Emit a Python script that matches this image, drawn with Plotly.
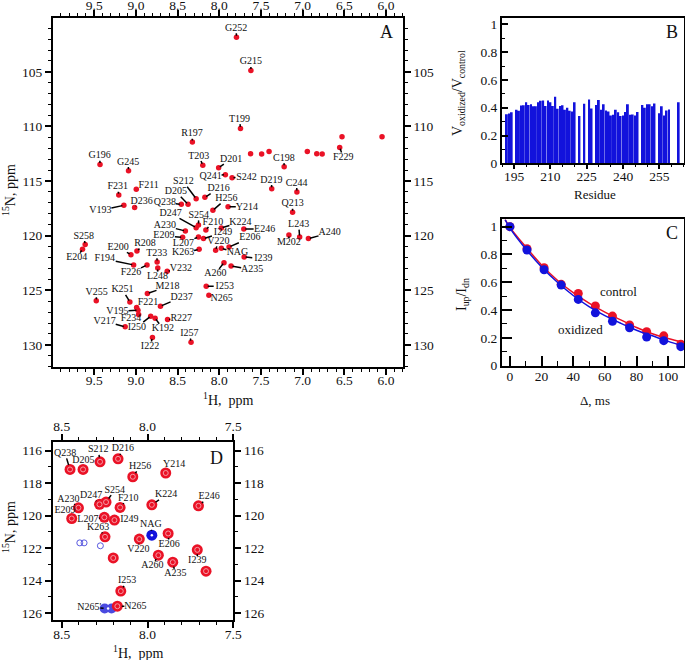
import math
import plotly.graph_objects as go

# panel A: assigned peaks
a_names=["R197","G196","G245","T203","F231","F211","D201","Q241","S242","G252","G215","T199","C198","D219","C244","F229",
"S212","D205","Q238","D216","H256","Y214","Q213","V193","D236","D247","S254","A230","F210","K224","E246","E209","L207","I249",
"V220","NAG","E206","K263","E200","R208","S258","E204","F194","T233","F226","I239","A235","A260","V232","L248","M218","I253",
"N265","V255","K251","F221","D237","V195","F234","V217","I250","K192","R227","I257","I222","A240","L243","M202"]
a_h=[8.323,9.431,9.089,8.198,9.206,8.996,8.008,7.927,7.847,7.794,7.621,7.746,7.222,7.371,7.069,6.556,
8.278,8.375,8.456,8.173,8.077,7.895,7.121,9.145,9.016,8.278,8.25,8.407,8.161,7.976,7.706,8.44,8.25,8.19,
8.044,7.976,7.883,8.242,9.06,8.988,9.609,9.641,9.028,8.746,8.867,7.702,7.859,7.944,8.625,8.738,8.863,8.157,
8.125,9.476,9.073,8.992,8.706,8.976,8.968,9.129,8.823,8.77,8.621,8.339,8.802,6.931,7.036,7.165]
a_n=[111.43,113.48,114.05,113.54,116.28,115.76,113.78,114.42,114.7,101.83,104.88,110.18,113.69,115.7,116.0,111.92,
116.61,117.13,117.13,116.49,117.68,117.35,117.86,117.22,117.41,119.27,119.02,119.57,119.48,119.3,119.39,120.15,120.12,120.27,
121.34,121.16,121.03,121.25,121.74,121.4,120.82,121.25,122.68,122.41,122.68,121.95,122.77,122.47,123.26,122.96,125.3,124.63,
125.46,125.97,126.07,126.58,126.46,126.83,127.22,128.35,127.38,127.56,127.68,129.75,129.33,120.27,120.12,119.94]
a_label_h=[8.327,9.435,9.093,8.246,9.218,8.847,7.859,8.105,7.673,7.798,7.621,7.758,7.226,7.375,7.073,6.512,
8.431,8.52,8.654,8.008,7.915,7.67,7.121,9.427,8.931,8.585,8.246,8.654,8.077,7.746,7.456,8.665,8.431,7.956,
8.012,7.782,7.633,8.435,9.214,8.891,9.625,9.71,9.375,8.75,9.06,7.472,7.605,8.048,8.46,8.742,8.621,7.935,
7.972,9.472,9.161,8.855,8.452,9.222,9.06,9.375,8.988,8.677,8.456,8.359,8.831,6.677,7.048,7.165]
a_label_n=[110.67,112.68,113.26,112.71,115.52,115.37,112.99,114.54,114.63,101.0,104.09,109.33,112.9,114.91,115.18,112.84,
115.06,115.98,116.98,115.7,116.61,117.38,117.07,117.68,116.83,117.96,118.14,119.11,118.75,118.75,119.39,120.0,120.7,119.72,
120.52,121.55,120.21,121.58,121.07,120.73,120.03,122.01,122.13,121.61,123.41,122.13,123.14,123.5,123.02,123.75,124.66,124.63,
125.79,125.18,124.97,126.13,125.64,126.92,127.62,127.83,128.38,128.53,127.59,128.96,130.15,119.75,118.99,120.67]
# peaks with no label
a_free_h=[6.528,6.048,7.625,7.492,7.403,6.944,6.831,6.766]
a_free_n=[110.95,110.95,112.5,112.53,112.29,112.29,112.5,112.53]

# panel B
b_residue=list(range(192,264))
b_ratio=[.353,.358,.368,None,.385,.378,.416,.418,.44,.42,.425,.41,.41,.44,.45,.452,.413,.452,.44,.413,.48,.392,.413,.418,.385,.40,.378,.373,.44,None,
.34,None,.428,None,.46,.395,None,.42,.455,.385,.425,.38,.373,.345,.35,.385,.368,.34,.345,.37,.425,.35,.352,.345,.37,None,
.42,.40,.425,.425,.41,.43,None,.36,.41,.345,.38,.388,None,None,None,.44]

# panel C
c_delta=[0,10.8,21.6,32.4,43.2,54,64.8,75.6,86.4,97.2,108]
c_control=[1.0,.842,.705,.585,.52,.43,.357,.293,.245,.215,.155]
c_oxidized=[1.0,.832,.69,.58,.477,.38,.32,.273,.206,.18,.137]
c_fit_x=[-3,0,10,20,30,40,50,60,70,80,90,100,110]
c_fit_control=[1.05,.995,.855,.725,.615,.525,.45,.385,.33,.275,.23,.195,.165]
c_fit_oxidized=[1.05,.99,.84,.71,.6,.505,.425,.36,.305,.255,.215,.175,.14]

# panel D
d_names=["Q238","D205","S212","D216","H256","Y214","K224","E246","A230","D247","S254","F210","E209","L207","I249","K263",
"V220","E206","A260","A235","I239","I253","N265"]
d_h=[8.452,8.376,8.277,8.172,8.086,7.894,7.975,7.703,8.403,8.28,8.242,8.16,8.442,8.252,8.193,8.248,8.048,7.88,7.937,7.853,7.71,8.156,8.176]
d_n=[117.15,117.15,116.68,116.5,117.6,117.37,119.33,119.39,119.51,119.3,119.16,119.49,120.17,120.1,120.27,121.3,121.44,121.09,122.43,122.86,122.1,124.64,125.57]
d_label_h=[8.481,8.374,8.287,8.144,8.043,7.845,7.892,7.641,8.461,8.329,8.191,8.112,8.481,8.348,8.106,8.288,8.053,7.874,7.972,7.838,7.71,8.119,8.071]
d_label_n=[116.16,116.62,115.94,115.88,116.96,116.86,118.71,118.83,118.98,118.77,118.42,118.93,119.7,120.25,120.25,120.72,122.08,121.77,123.09,123.58,122.78,124.01,125.59]
d_free_h=[8.2,7.659]
d_free_n=[122.6,123.41]
d_blue_names=["NAG","N265'"]
d_blue_h=[7.975,8.23]
d_blue_n=[121.2,125.71]
d_blue_label_h=[7.981,8.339]
d_blue_label_n=[120.56,125.63]
d_wide_h=[8.25,8.21]
d_wide_n=[125.71,125.71]
d_weak_h=[8.395,8.37,8.275]
d_weak_n=[121.67,121.67,121.85]

W,H=685,660
FONT="Liberation Serif"
RED="#ea1226"
BLUE="#1212dc"

fig=go.Figure()

def xdom(a,b):
    return [a/W,b/W]
def ydom(top,bottom):
    return [1-bottom/H,1-top/H]
def note(text,x,y,size=14,angle=0):
    fig.add_annotation(text=text,x=x/W,y=1-y/H,xref="paper",yref="paper",showarrow=False,xanchor="center",yanchor="middle",
                       textangle=angle,font=dict(family=FONT,size=size,color="#111"))

# leader from the peak edge to the edge of the label box
def leaders(hs,ns,lhs,lns,sx,sy,r,hw=11,hh=5):
    xs,ys=[],[]
    for h,n,lh,ln in zip(hs,ns,lhs,lns):
        dx=abs(h-lh)*sx
        dy=abs(n-ln)*sy
        if dx==0 and dy==0:
            continue
        t=min(hw/dx if dx else 9,hh/dy if dy else 9)
        s=r/math.hypot(dx,dy)
        if t+s>=1:
            continue
        xs+=[h+s*(lh-h),lh+t*(h-lh),None]
        ys+=[n+s*(ln-n),ln+t*(n-ln),None]
    return xs,ys

def axis(dom,rng,dtick,minor,ticks,ticklen,minorlen,anchor,side,overlay=None,mirror=False,fmt="",standoff=0):
    d=dict(domain=dom,range=rng,dtick=dtick,tick0=0,ticks=ticks,ticklen=ticklen,tickwidth=1.5,automargin=False,
           tickcolor="black",showline=True,linecolor="black",linewidth=2,showgrid=False,zeroline=False,tickformat=fmt,
           ticklabelstandoff=standoff,
           minor=dict(dtick=minor,tick0=0,ticks=ticks,ticklen=minorlen,tickwidth=1,tickcolor="black",showgrid=False),
           tickfont=dict(family=FONT,size=13.5,color="#111"),anchor=anchor,side=side,mirror=mirror)
    if overlay:
        d["overlaying"]=overlay
    return d

# panel A and D have labelled axes on all four sides
layout={}
ax=xdom(53,402.7); ay=ydom(17.5,366.7)
layout["xaxis"]=axis(ax,[9.995,5.8],0.5,0.1,"outside",6,3,"y","bottom",fmt=".1f",standoff=-6)
layout["yaxis"]=axis(ay,[132,100.02],5,1,"outside",6,3,"x","left")
layout["xaxis5"]=axis(ax,[9.995,5.8],0.5,0.1,"outside",6,3,"y5","top","x",fmt=".1f",standoff=-6)
layout["yaxis5"]=axis(ay,[132,100.02],5,1,"outside",6,3,"x5","right","y")

bx=xdom(502,684); by=ydom(17.5,163.3)
layout["xaxis2"]=axis(bx,[190,265.2],15,5,"outside",4,2,"y2","bottom",mirror=True,standoff=-5)
layout["yaxis2"]=axis(by,[0,1.05],0.2,0.1,"inside",6,3,"x2","left",mirror=True,fmt="~g")

cx=xdom(502,684); cy=ydom(219.3,365.7)
layout["xaxis3"]=axis(cx,[-5,110],20,10,"inside",10,5,"y3","bottom",mirror=True,standoff=-3)
layout["yaxis3"]=axis(cy,[0,1.053],0.2,0.1,"inside",10,5,"x3","left",mirror=True,fmt="~g")

dx=xdom(52.7,233.3); dy=ydom(442.3,619.7)
layout["xaxis4"]=axis(dx,[8.553,7.5],0.5,0.1,"outside",6,3,"y4","bottom",fmt=".1f",standoff=-5)
layout["yaxis4"]=axis(dy,[126.4,115.48],2,1,"outside",6,3,"x4","left")
layout["xaxis6"]=axis(dx,[8.553,7.5],0.5,0.1,"outside",6,3,"y6","top","x4",fmt=".1f",standoff=-2)
layout["yaxis6"]=axis(dy,[126.4,115.48],2,1,"outside",6,3,"x6","right","y4")

# empty traces so the overlay axes get drawn
fig.add_trace(go.Scatter(x=[None],y=[None],xaxis="x5",yaxis="y5",showlegend=False))
fig.add_trace(go.Scatter(x=[None],y=[None],xaxis="x6",yaxis="y6",showlegend=False))

# A
lx,ly=leaders(a_h,a_n,a_label_h,a_label_n,83,10.91,1.5)
fig.add_trace(go.Scatter(x=a_h+a_free_h,y=a_n+a_free_n,mode="markers",marker=dict(color=RED,size=5.5),showlegend=False))
fig.add_trace(go.Scatter(x=lx,y=ly,mode="lines",line=dict(color="black",width=1.5),showlegend=False))
fig.add_trace(go.Scatter(x=a_label_h,y=a_label_n,mode="text",text=a_names,textposition="middle center",
                         textfont=dict(family=FONT,size=10,color="#111"),showlegend=False))

# B
fig.add_trace(go.Bar(x=b_residue,y=b_ratio,marker=dict(color=BLUE,line=dict(width=0)),width=0.8,xaxis="x2",yaxis="y2",showlegend=False))

# C
fig.add_trace(go.Scatter(x=c_fit_x,y=c_fit_control,mode="lines",line=dict(color=RED,width=1.5,shape="spline"),xaxis="x3",yaxis="y3",showlegend=False))
fig.add_trace(go.Scatter(x=c_delta,y=c_control,mode="markers",marker=dict(color=RED,size=9),xaxis="x3",yaxis="y3",showlegend=False))
fig.add_trace(go.Scatter(x=c_fit_x,y=c_fit_oxidized,mode="lines",line=dict(color=BLUE,width=1.5,shape="spline"),xaxis="x3",yaxis="y3",showlegend=False))
fig.add_trace(go.Scatter(x=c_delta,y=c_oxidized,mode="markers",marker=dict(color=BLUE,size=9),xaxis="x3",yaxis="y3",showlegend=False))

# D
red_h=d_h+d_free_h
red_n=d_n+d_free_n
fig.add_trace(go.Scatter(x=d_wide_h,y=d_wide_n,mode="markers",marker=dict(color="#4a4ae0",size=10),xaxis="x4",yaxis="y4",showlegend=False))
fig.add_trace(go.Scatter(x=red_h,y=red_n,mode="markers",marker=dict(color=RED,size=11),xaxis="x4",yaxis="y4",showlegend=False))
fig.add_trace(go.Scatter(x=red_h,y=red_n,mode="markers",marker=dict(symbol="circle-open",color="#f59aa4",size=5,line=dict(width=1)),xaxis="x4",yaxis="y4",showlegend=False))
fig.add_trace(go.Scatter(x=[d_blue_h[0]],y=[d_blue_n[0]],mode="markers",marker=dict(color=BLUE,size=11),xaxis="x4",yaxis="y4",showlegend=False))
fig.add_trace(go.Scatter(x=d_blue_h,y=d_blue_n,mode="markers",marker=dict(color="white",size=2.5),xaxis="x4",yaxis="y4",showlegend=False))
fig.add_trace(go.Scatter(x=d_weak_h,y=d_weak_n,mode="markers",marker=dict(symbol="circle-open",color="#5a5ae0",size=6,line=dict(width=1)),xaxis="x4",yaxis="y4",showlegend=False))
lx,ly=leaders(d_h+d_blue_h,d_n+d_blue_n,d_label_h+d_blue_label_h,d_label_n+d_blue_label_n,171.5,16.23,4.5)
fig.add_trace(go.Scatter(x=lx,y=ly,mode="lines",line=dict(color="black",width=1.5),xaxis="x4",yaxis="y4",showlegend=False))
fig.add_trace(go.Scatter(x=d_label_h+d_blue_label_h,y=d_label_n+d_blue_label_n,mode="text",text=d_names+d_blue_names,textposition="middle center",
                         textfont=dict(family=FONT,size=10,color="#111"),xaxis="x4",yaxis="y4",showlegend=False))

# panel letters and axis titles
note("A",387,32,18)
note("B",672,32,18)
note("C",672,233,18)
note("D",216,458,18)
note("<sup>1</sup>H,  ppm",228,399)
note("<sup>15</sup>N, ppm",9,190,14,-90)
note("V<sub>oxidized</sub>/V<sub>control</sub>",459,93,14,-90)
note("Residue",595,195,13)
note("I<sub>up</sub>/I<sub>dn</sub>",462,295,14,-90)
note("Δ, ms",595,400,13)
note("control",618,291,13)
note("oxidized",580,329,13)
note("<sup>1</sup>H,  ppm",138,652)
note("<sup>15</sup>N, ppm",9,527,14,-90)

fig.update_layout(width=W,height=H,margin=dict(l=0,r=0,t=0,b=0),paper_bgcolor="white",plot_bgcolor="white",
                  showlegend=False,bargap=0.2,**layout)
# the page's default body margin would push the figure 8px
fig.write_html("out.html",config={"displayModeBar":False},post_script="document.body.style.margin='0';document.body.style.overflow='hidden';")
